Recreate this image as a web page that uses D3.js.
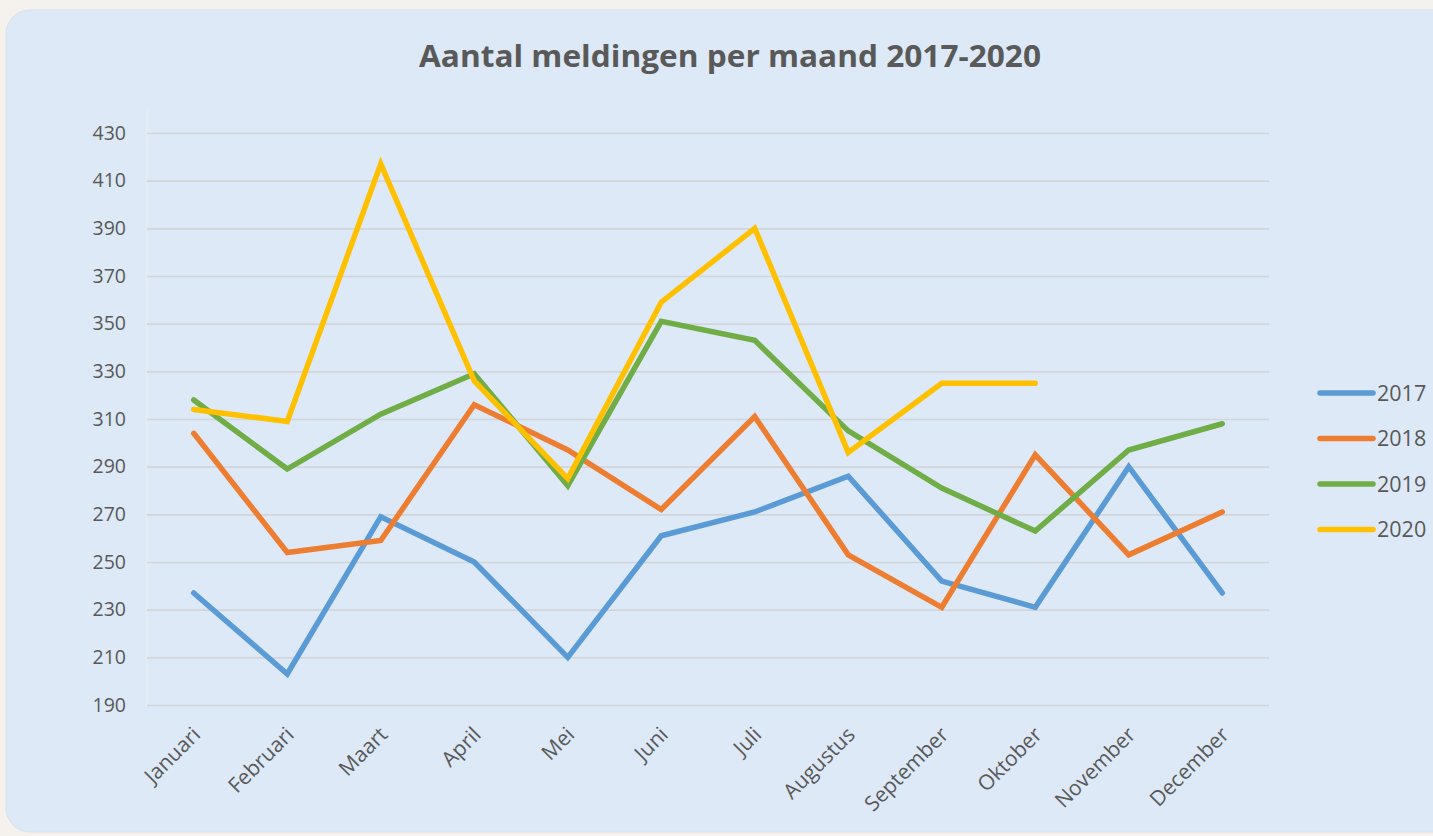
<!DOCTYPE html>
<html>
<head>
<meta charset="utf-8">
<script src="https://cdn.jsdelivr.net/npm/d3@7"></script>
<style>
  html, body { margin: 0; padding: 0; background: #f5f1ed; }
  svg { display: block; }
</style>
</head>
<body>
<svg id="chart" width="1433" height="836"></svg>
<script>
const months = ["Januari","Februari","Maart","April","Mei","Juni","Juli","Augustus","September","Oktober","November","December"];
const yearLabels = ["2017","2018","2019","2020"];
const values2017 = [237, 203, 269, 250, 210, 261, 271, 286, 242, 231, 290, 237];
const values2018 = [304, 254, 259, 316, 297, 272, 311, 253, 231, 295, 253, 271];
const values2019 = [318, 289, 312, 329, 282, 351, 343, 305, 281, 263, 297, 308];
const values2020 = [314, 309, 417, 326, 285, 359, 390, 296, 325, 325];
const yTicks = [190, 210, 230, 250, 270, 290, 310, 330, 350, 370, 390, 410, 430];
const colors = ["#5b9bd5", "#ed7d31", "#70ad47", "#ffc000"];
const titleText = "Aantal meldingen per maand 2017-2020";

const seriesList = [values2017, values2018, values2019, values2020].map((v, i) => ({
  name: yearLabels[i], color: colors[i], values: v
}));

const svg = d3.select("#chart");
const font = "'Open Sans', 'Liberation Sans', sans-serif";
const textColor = "#595959";

// panel
svg.append("rect")
  .attr("x", 6).attr("y", 10).attr("width", 1460).attr("height", 822)
  .attr("rx", 24).attr("ry", 24)
  .attr("fill", "#dde9f6").attr("stroke", "#d9e2ea").attr("stroke-width", 1);

const plot = { left: 147, right: 1269, top: 133, bottom: 705 };

const x = d3.scaleBand().domain(months).range([plot.left, plot.right]);
const xc = m => x(m) + x.bandwidth() / 2;
const y = d3.scaleLinear().domain([190, 430]).range([plot.bottom, plot.top]);

// title
svg.append("text")
  .attr("x", 730).attr("y", 67)
  .attr("text-anchor", "middle")
  .attr("font-family", font).attr("font-weight", "bold")
  .attr("font-size", 30).attr("fill", textColor)
  .attr("textLength", 622).attr("lengthAdjust", "spacingAndGlyphs")
  .text(titleText);

// left faint border of plot area
svg.append("line")
  .attr("x1", plot.left).attr("x2", plot.left)
  .attr("y1", 110).attr("y2", plot.bottom)
  .attr("stroke", "#e6ecf3").attr("stroke-width", 1.5);

// gridlines
const yAxis = d3.axisLeft(y).tickValues(yTicks).tickSize(-(plot.right - plot.left)).tickPadding(21);
const gy = svg.append("g").attr("transform", `translate(${plot.left},0)`).call(yAxis);
gy.select(".domain").remove();
gy.selectAll(".tick line").attr("stroke", "#d2d5da").attr("stroke-width", 1.6);
gy.selectAll(".tick text")
  .attr("font-family", font).attr("font-size", 19.5).attr("fill", textColor);

// x axis
const xAxis = d3.axisBottom(x).tickSize(0).tickPadding(0);
const gx = svg.append("g").attr("transform", `translate(0,${plot.bottom})`).call(xAxis);
gx.select(".domain").remove();
gx.selectAll(".tick text")
  .attr("font-family", font).attr("font-size", 21).attr("fill", textColor)
  .attr("text-anchor", "end")
  .attr("dy", null).attr("y", 0)
  .attr("transform", "translate(8,31) rotate(-45)");

// lines
const line = d3.line()
  .x((d, i) => xc(months[i]))
  .y(d => y(d));

svg.append("g").selectAll("path")
  .data(seriesList)
  .join("path")
  .attr("d", s => line(s.values))
  .attr("fill", "none")
  .attr("stroke", s => s.color)
  .attr("stroke-width", 5.5)
  .attr("stroke-linejoin", "miter")
  .attr("stroke-linecap", "round");

// legend
const legend = svg.append("g");
seriesList.forEach((s, i) => {
  const ly = 393 + i * 45.5;
  legend.append("line")
    .attr("x1", 1320).attr("x2", 1373).attr("y1", ly).attr("y2", ly)
    .attr("stroke", s.color).attr("stroke-width", 5.5).attr("stroke-linecap", "round");
  legend.append("text")
    .attr("x", 1377).attr("y", ly).attr("dy", "0.35em")
    .attr("font-family", font).attr("font-size", 21.5).attr("fill", textColor)
    .text(s.name);
});
</script>
</body>
</html>
